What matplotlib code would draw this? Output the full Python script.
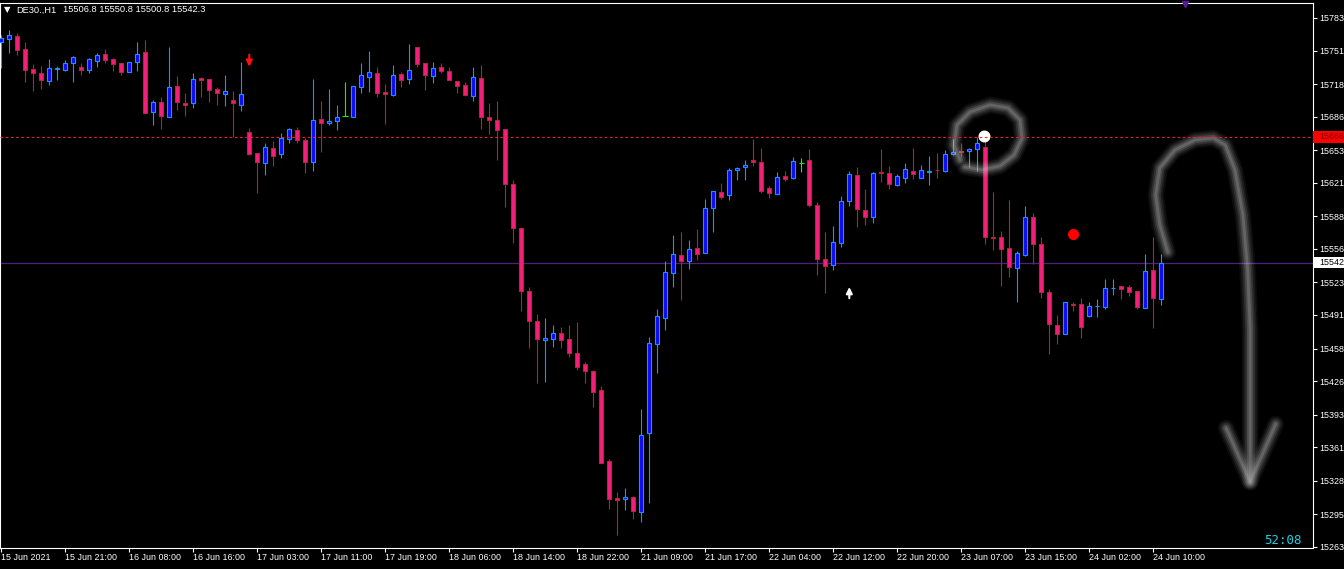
import numpy as np
import matplotlib
matplotlib.use("Agg")
import matplotlib.pyplot as plt
from matplotlib import font_manager
from matplotlib.patches import Rectangle
from matplotlib.transforms import blended_transform_factory

# DE30 H1 candles, 15 Jun 2021 -> 24 Jun 2021
opens = [
    15759.7, 15762.6, 15765.0, 15752.5, 15732.9, 15728.6, 15720.8, 15732.6, 15732.2, 15739.1,
    15734.8, 15732.2, 15741.0, 15747.3, 15742.4, 15738.5, 15729.6, 15740.0, 15749.3, 15690.3,
    15700.1, 15685.4, 15715.8, 15699.4, 15699.1, 15724.3, 15722.7, 15712.9, 15708.0, 15702.4,
    15697.8, 15670.6, 15650.0, 15640.1, 15654.9, 15649.0, 15663.7, 15672.9, 15662.8, 15641.7,
    15683.4, 15679.5, 15681.4, 15686.4, 15686.0, 15715.5, 15725.3, 15728.6, 15710.2, 15707.3,
    15727.9, 15722.7, 15754.2, 15738.5, 15725.7, 15734.5, 15731.2, 15720.8, 15716.8, 15706.0,
    15723.7, 15685.4, 15682.4, 15673.6, 15619.5, 15576.2, 15514.3, 15484.8, 15466.1, 15467.7,
    15473.0, 15467.1, 15453.4, 15442.5, 15436.0, 15417.0, 15347.2, 15310.8, 15310.4, 15311.7,
    15297.6, 15374.7, 15462.2, 15487.7, 15532.0, 15549.7, 15544.4, 15556.6, 15551.7, 15595.9,
    15611.6, 15608.7, 15633.3, 15636.2, 15643.1, 15641.7, 15615.6, 15610.3, 15627.4, 15626.0,
    15640.7, 15643.1, 15598.8, 15545.8, 15540.4, 15562.1, 15603.4, 15628.3, 15593.9, 15587.6,
    15631.6, 15630.6, 15618.5, 15626.0, 15632.9, 15626.0, 15631.9, 15633.9, 15632.6, 15649.0,
    15651.9, 15651.9, 15654.5, 15656.5, 15567.4, 15567.4, 15556.6, 15537.5, 15550.3, 15587.1,
    15560.5, 15513.9, 15480.9, 15472.0, 15502.1, 15501.5, 15490.3, 15499.4, 15499.2, 15517.2,
    15519.5, 15518.2, 15514.3, 15498.2, 15534.9, 15506.8]
highs = [
    15766.3, 15771.2, 15767.9, 15759.1, 15737.8, 15735.8, 15743.0, 15735.8, 15741.7, 15745.6,
    15738.8, 15743.4, 15748.3, 15752.5, 15743.4, 15739.1, 15740.0, 15759.7, 15761.1, 15702.1,
    15705.6, 15754.8, 15726.3, 15709.3, 15729.0, 15724.7, 15722.7, 15715.5, 15727.0, 15711.2,
    15739.7, 15674.6, 15650.0, 15659.8, 15662.1, 15669.6, 15674.8, 15676.1, 15664.7, 15723.0,
    15701.7, 15713.2, 15697.5, 15719.8, 15716.1, 15739.1, 15750.6, 15735.1, 15718.3, 15737.1,
    15729.6, 15757.5, 15754.2, 15738.5, 15739.7, 15739.1, 15734.5, 15720.8, 15720.1, 15735.1,
    15736.8, 15699.7, 15701.7, 15673.6, 15623.7, 15576.2, 15518.8, 15492.0, 15488.0, 15481.2,
    15478.9, 15481.2, 15483.8, 15444.8, 15437.0, 15421.2, 15349.1, 15316.7, 15320.9, 15313.0,
    15398.3, 15469.7, 15496.9, 15544.1, 15569.6, 15572.6, 15564.7, 15575.2, 15604.7, 15612.6,
    15621.1, 15635.2, 15636.8, 15643.4, 15664.0, 15654.9, 15617.8, 15631.6, 15632.9, 15646.6,
    15645.1, 15654.2, 15602.4, 15572.6, 15578.5, 15608.3, 15632.6, 15636.8, 15614.6, 15631.3,
    15653.9, 15637.2, 15629.6, 15640.7, 15654.9, 15638.5, 15647.3, 15650.0, 15653.2, 15664.0,
    15660.4, 15654.9, 15666.3, 15666.0, 15612.0, 15573.9, 15603.7, 15553.9, 15598.2, 15591.0,
    15567.4, 15516.6, 15491.3, 15503.5, 15504.1, 15507.4, 15503.8, 15506.7, 15526.4, 15526.4,
    15519.5, 15520.5, 15514.9, 15550.7, 15568.0, 15550.8]
lows = [
    15734.1, 15748.9, 15746.6, 15720.4, 15711.2, 15713.2, 15717.1, 15722.0, 15730.9, 15720.4,
    15727.0, 15728.9, 15735.1, 15739.1, 15731.2, 15727.0, 15729.6, 15730.9, 15689.3, 15677.8,
    15673.9, 15685.4, 15692.5, 15687.0, 15694.8, 15705.6, 15700.7, 15697.5, 15696.5, 15666.3,
    15691.9, 15648.3, 15610.6, 15628.6, 15637.8, 15645.1, 15660.4, 15660.4, 15630.3, 15632.9,
    15651.5, 15677.8, 15672.9, 15686.4, 15686.0, 15709.6, 15710.2, 15705.6, 15678.8, 15706.3,
    15715.5, 15718.3, 15734.5, 15712.2, 15719.4, 15728.6, 15721.7, 15709.0, 15707.0, 15701.7,
    15673.9, 15668.9, 15643.4, 15597.5, 15561.5, 15494.9, 15458.8, 15423.8, 15425.4, 15459.8,
    15458.8, 15450.0, 15437.0, 15424.4, 15400.8, 15345.2, 15300.0, 15274.7, 15299.3, 15290.7,
    15287.8, 15305.8, 15433.7, 15476.2, 15518.8, 15505.7, 15536.5, 15545.1, 15551.7, 15572.9,
    15605.0, 15604.4, 15623.7, 15623.7, 15637.8, 15610.6, 15606.3, 15609.7, 15623.0, 15625.0,
    15631.6, 15596.9, 15530.3, 15512.3, 15535.2, 15558.2, 15598.5, 15577.0, 15579.5, 15581.2,
    15622.1, 15615.2, 15617.8, 15621.1, 15624.7, 15625.4, 15618.8, 15625.4, 15631.3, 15648.3,
    15646.6, 15636.8, 15632.6, 15560.8, 15554.9, 15519.8, 15528.1, 15503.8, 15549.3, 15541.1,
    15508.0, 15452.4, 15462.5, 15472.0, 15494.9, 15468.1, 15489.0, 15489.0, 15496.9, 15510.7,
    15506.7, 15510.0, 15496.9, 15498.2, 15478.5, 15500.8]
closes = [
    15763.6, 15766.3, 15751.2, 15731.6, 15729.2, 15721.7, 15733.5, 15734.1, 15738.5, 15744.4,
    15732.2, 15742.4, 15746.6, 15741.4, 15737.5, 15730.2, 15739.4, 15747.3, 15689.3, 15700.1,
    15686.4, 15714.9, 15700.1, 15697.8, 15722.7, 15722.3, 15712.5, 15709.0, 15711.0, 15699.1,
    15708.3, 15649.0, 15641.1, 15655.9, 15647.6, 15664.7, 15673.6, 15662.8, 15641.7, 15682.7,
    15679.5, 15681.7, 15685.4, 15686.4, 15716.1, 15726.7, 15729.6, 15709.0, 15708.6, 15726.7,
    15721.7, 15731.6, 15738.1, 15726.7, 15733.5, 15730.6, 15721.7, 15715.8, 15707.0, 15724.7,
    15685.4, 15682.4, 15672.9, 15619.5, 15576.2, 15514.3, 15484.8, 15467.1, 15468.1, 15473.0,
    15466.7, 15454.0, 15440.2, 15436.2, 15415.6, 15345.2, 15309.8, 15308.8, 15312.1, 15298.6,
    15372.7, 15463.2, 15490.0, 15533.0, 15550.7, 15543.8, 15555.6, 15550.7, 15595.9, 15612.6,
    15607.3, 15633.3, 15635.2, 15638.2, 15641.7, 15613.2, 15611.2, 15626.4, 15625.0, 15642.1,
    15640.7, 15598.8, 15546.4, 15539.5, 15562.5, 15603.1, 15629.6, 15594.9, 15587.1, 15630.3,
    15630.3, 15619.5, 15627.4, 15634.2, 15629.3, 15633.3, 15632.3, 15633.3, 15649.0, 15651.3,
    15650.9, 15653.9, 15659.8, 15568.0, 15566.7, 15555.6, 15538.5, 15551.7, 15587.1, 15560.5,
    15513.9, 15482.4, 15472.0, 15503.5, 15500.8, 15479.1, 15499.6, 15499.9, 15517.2, 15517.8,
    15516.8, 15513.9, 15499.2, 15534.3, 15507.4, 15542.3]

time_labels = ["15 Jun 2021", "15 Jun 21:00", "16 Jun 08:00", "16 Jun 16:00", "17 Jun 03:00",
               "17 Jun 11:00", "17 Jun 19:00", "18 Jun 06:00", "18 Jun 14:00", "18 Jun 22:00",
               "21 Jun 09:00", "21 Jun 17:00", "22 Jun 04:00", "22 Jun 12:00", "22 Jun 20:00",
               "23 Jun 07:00", "23 Jun 15:00", "24 Jun 02:00", "24 Jun 10:00"]
time_label_bars = list(range(0, 145, 8))
price_ticks = [15783, 15751, 15718, 15686, 15653, 15621, 15588, 15556, 15523, 15491,
               15458, 15426, 15393, 15361, 15328, 15295, 15263]
y_range = (15261.9, 15798.2)

bid = 15542.3
alert_level = 15666
header = "DE30.,H1"
header_ohlc = "15506.8 15550.8 15500.8 15542.3"
timer = "52:08"

# signal markers (bar index, price)
sell_arrow = (31, 15747.0, 15735.0)
buy_arrow = (106, 15507.5, 15518.5)
white_dot = (122.85, 15667.0)
red_dot = (133.9, 15570.3)

# hand drawn strokes (bar index, price)
loop_x = [119.84, 119.09, 119.46, 121.09, 123.59, 125.84, 127.34, 127.59, 126.59, 124.84, 122.59, 120.46]
loop_p = [15643.4, 15658.1, 15677.8, 15690.6, 15697.5, 15694.5, 15682.7, 15665.0, 15648.3, 15637.5, 15633.6, 15636.5]
arrow_x = [145.8, 144.8, 144.3, 144.8, 146.7, 149.2, 151.5, 153.0, 154.2, 155.2, 155.8, 156.1, 156.1, 156.1, 156.1]
arrow_p = [15552.9, 15579.5, 15609.0, 15635.5, 15653.2, 15663.1, 15665.0, 15658.1, 15633.6, 15589.3,
           15535.2, 15476.2, 15407.4, 15338.6, 15326.8]
head_x = [153.1, 156.1, 159.3]
head_p = [15379.9, 15326.8, 15383.8]


def pick_font(names):
    for n in names:
        try:
            font_manager.findfont(font_manager.FontProperties(family=n), fallback_to_default=False)
            return n
        except ValueError:
            pass
    return "DejaVu Sans"


FONT = pick_font(["Liberation Sans Narrow", "Liberation Sans"])
NARROW = FONT == "Liberation Sans Narrow"
LBL = 7 if NARROW else 6.4

W, H = 1344, 569
fig = plt.figure(figsize=(W / 100, H / 100), dpi=100, facecolor="black")
ax = fig.add_axes([0, (H - 548) / H, 1313 / W, (548 - 2.5) / H])
ax.set_facecolor("black")

o = np.array(opens)
h = np.array(highs)
l = np.array(lows)
c = np.array(closes)
x = np.arange(len(o))
up = c > o
dn = c < o
dj = c == o

BULL_FILL, BULL_EDGE = "#0b0bf5", "#1e90ff"
BEAR_FILL, BEAR_EDGE, BEAR_WICK = "#f5207a", "#b0283a", "#a52a2a"
DOJI = "#00ff00"

ax.vlines(x[up], l[up], h[up], color=BULL_EDGE, lw=0.8, zorder=2)
ax.vlines(x[dn], l[dn], h[dn], color=BEAR_WICK, lw=0.8, zorder=2)
ax.vlines(x[dj], l[dj], h[dj], color=DOJI, lw=0.8, zorder=2)
ax.bar(x[up], c[up] - o[up], bottom=o[up], width=0.5, color=BULL_FILL,
       edgecolor=BULL_EDGE, linewidth=0.8, zorder=3)
ax.bar(x[dn], o[dn] - c[dn], bottom=c[dn], width=0.5, color=BEAR_FILL,
       edgecolor=BEAR_EDGE, linewidth=0.8, zorder=3)
ax.hlines(o[dj], x[dj] - 0.35, x[dj] + 0.35, color=DOJI, lw=0.8, zorder=3)

ax.set_xlim(-0.16, 163.96)
ax.set_ylim(*y_range)

# current bid line
ax.axhline(bid, color="#50207f", lw=0.9, zorder=1)


# finger drawn gray strokes, soft edges brightest in the middle
def glow(xs, ys):
    for lw, a in [(12, 0.06), (9.5, 0.09), (7, 0.13), (4.5, 0.18), (2, 0.22)]:
        ax.plot(xs, ys, color="#c4c4c4", lw=lw, alpha=a, solid_capstyle="round",
                solid_joinstyle="round", zorder=4)


glow(loop_x, loop_p)
glow(arrow_x, arrow_p)
glow(head_x, head_p)

ax.plot(*white_dot, "o", ms=7.6, color="white", zorder=5)
ax.axhline(alert_level, color="#ff1a1a", lw=0.75, ls=(0, (2.5, 2.5)), zorder=6)
ax.plot(*red_dot, "o", ms=8, color="#ff0000", mec="none", zorder=5)

ax.annotate("", xy=(sell_arrow[0], sell_arrow[2]), xytext=(sell_arrow[0], sell_arrow[1]),
            arrowprops=dict(arrowstyle="-|>", color="#ff1010", lw=1.5, mutation_scale=9,
                            shrinkA=0, shrinkB=0), zorder=6)
ax.annotate("", xy=(buy_arrow[0], buy_arrow[2]), xytext=(buy_arrow[0], buy_arrow[1]),
            arrowprops=dict(arrowstyle="-|>", color="white", lw=1.5, mutation_scale=9,
                            shrinkA=0, shrinkB=0), zorder=6)
ax.plot([147.95], [y_range[1] - 1], "v", ms=5, color="#5b1a9a", clip_on=False, zorder=6)

# axes styling
for sp in ax.spines.values():
    sp.set_color("white")
    sp.set_linewidth(0.8)

ax.yaxis.tick_right()
ax.set_yticks(price_ticks)
ax.set_yticklabels([str(p) for p in price_ticks])
ax.tick_params(axis="y", colors="white", length=2.9, width=0.8, pad=2.0, labelsize=LBL)
ax.set_xticks(time_label_bars)
ax.set_xticklabels(time_labels)
ax.tick_params(axis="x", colors="white", length=2.9, width=0.8, pad=1.0, labelsize=LBL)
for t in ax.get_xticklabels() + ax.get_yticklabels():
    t.set_fontfamily(FONT)
for t in ax.get_xticklabels():
    t.set_ha("left")

# price boxes on the right scale
bt = blended_transform_factory(ax.transAxes, ax.transData)
for lvl, fc, tc in [(alert_level, "#ff0000", "#7a0000"), (bid, "white", "black")]:
    ax.add_patch(Rectangle((1.0, lvl - 5.6), 31 / 1313, 11.2, transform=bt, facecolor=fc,
                           edgecolor="none", clip_on=False, zorder=7))
    ax.text(1319 / 1313, lvl, f"{lvl:.0f}", transform=bt, color=tc, fontsize=LBL,
            family=FONT, ha="left", va="center", clip_on=False, zorder=8)

# header and timer
fig.text(4 / W, 1 - 10 / H, "\u25bc", color="white", fontsize=6, family="DejaVu Sans",
         ha="left", va="center")
fig.text(16 / W, 1 - 10 / H, header, color="white", fontsize=LBL + 0.3, family=FONT,
         ha="left", va="center")
fig.text(63 / W, 1 - 10 / H, header_ohlc, color="white", fontsize=LBL + 0.3, family=FONT,
         ha="left", va="center")
fig.text(1302 / W, 1 - 541 / H, timer, color="#20d0e0", fontsize=9, family="DejaVu Sans Mono",
         ha="right", va="center")

fig.savefig("out.png", dpi=100, facecolor="black")
